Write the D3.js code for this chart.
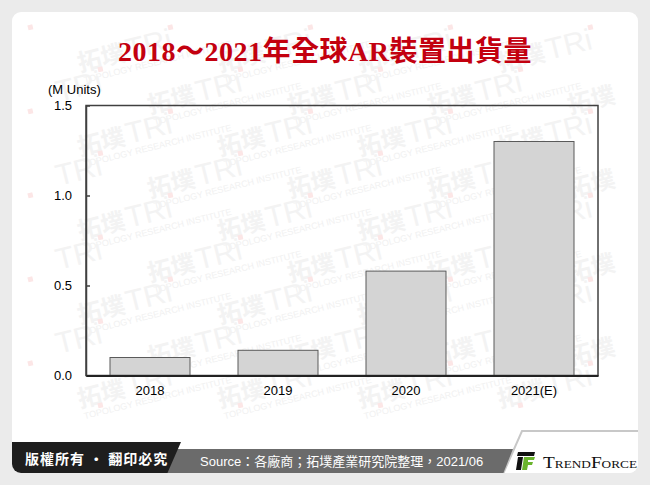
<!DOCTYPE html>
<html>
<head>
<meta charset="utf-8">
<script src="https://cdn.jsdelivr.net/npm/d3@7"></script>
<style>
  html, body { margin: 0; padding: 0; background: #ebebeb; }
  svg { display: block; }
</style>
</head>
<body>
<svg id="chart" width="650" height="485"></svg>
<script>
// ---- data ----
const categories = ["2018", "2019", "2020", "2021(E)"];
const shipments = [0.1, 0.14, 0.58, 1.3];
const yTicks = [0, 0.5, 1.0, 1.5];
const titleText = "2018～2021年全球AR裝置出貨量";
const unitLabel = "(M Units)";
const copyrightText = "版權所有 · 翻印必究";
const sourceText = "Source：各廠商；拓墣產業研究院整理，2021/06";
const watermarkMain = "拓墣";
const watermarkLogo = "TRi";
const watermarkSub = "TOPOLOGY RESEARCH INSTITUTE";

const svg = d3.select("#chart");
const W = 650, H = 485;

svg.append("rect").attr("width", W).attr("height", H).attr("fill", "#ebebeb");

const defs = svg.append("defs");
defs.append("clipPath").attr("id", "panelClip")
  .append("rect").attr("x", 12).attr("y", 12).attr("width", 626).attr("height", 461).attr("rx", 9);

const panel = svg.append("g").attr("clip-path", "url(#panelClip)");
panel.append("rect").attr("x", 12).attr("y", 12).attr("width", 626).attr("height", 461).attr("fill", "#ffffff");

// watermark (decorative) – keep only pieces that lie fully inside the panel
const wm = panel.append("g").attr("pointer-events", "none");
function keepInside(sel) {
  const b = sel.node().getBoundingClientRect();
  if (b.left < 13 || b.right > 637 || b.top < 13 || b.bottom > 440) sel.remove();
}
for (let r = -1; r < 13; r++) {
  for (let c = -1; c < 6; c++) {
    const wx = c * 140 + (r % 2 ? 70 : 0) + 10;
    const wy = r * 42 + 30;
    const g = wm.append("g").attr("transform", `translate(${wx},${wy}) rotate(-14)`);
    keepInside(g.append("text").attr("x", 0).attr("y", 0)
      .attr("font-family", "Noto Sans CJK TC").attr("font-weight", 700)
      .attr("font-size", 24).attr("fill", "#f3f3f3").text(watermarkMain));
    keepInside(g.append("text").attr("x", 50).attr("y", 0)
      .attr("font-family", "Liberation Sans").attr("font-size", 30)
      .attr("fill", "#f3f3f3").text(watermarkLogo));
    keepInside(g.append("rect").attr("x", 96).attr("y", -24).attr("width", 5).attr("height", 5).attr("fill", "#fce6e6"));
    keepInside(g.append("text").attr("x", 2).attr("y", 12)
      .attr("font-family", "Liberation Sans").attr("font-size", 9)
      .attr("fill", "#f1f1f1").text(watermarkSub));
  }
}

// title
svg.append("text")
  .attr("x", 325).attr("y", 61)
  .attr("text-anchor", "middle")
  .attr("font-family", "'Liberation Serif', 'Noto Sans CJK TC', serif")
  .attr("font-weight", 700)
  .attr("font-size", 28)
  .attr("letter-spacing", 0.5)
  .attr("fill", "#c3000f")
  .text(titleText);

// plot
const pLeft = 86, pRight = 598, pTop = 105.5, pBottom = 375.5;
const x = d3.scaleBand().domain(categories).range([pLeft, pRight])
  .paddingInner(0.375).paddingOuter(0.1875);
const y = d3.scaleLinear().domain([0, 1.5]).range([pBottom, pTop]);

const plot = svg.append("g");

plot.selectAll("rect.bar")
  .data(categories)
  .join("rect")
  .attr("class", "bar")
  .attr("x", d => x(d))
  .attr("width", x.bandwidth())
  .attr("y", (d, i) => y(shipments[i]))
  .attr("height", (d, i) => y(0) - y(shipments[i]))
  .attr("fill", "#d4d4d4")
  .attr("stroke", "#5a5a5a")
  .attr("stroke-width", 1);

plot.append("rect")
  .attr("x", pLeft).attr("y", pTop)
  .attr("width", pRight - pLeft).attr("height", pBottom - pTop)
  .attr("fill", "none").attr("stroke", "#404040").attr("stroke-width", 1.5);

const yAxis = d3.axisLeft(y).tickValues(yTicks).tickFormat(d3.format(".1f"))
  .tickSizeInner(-4).tickSizeOuter(0).tickPadding(14);
const ya = plot.append("g").attr("transform", `translate(${pLeft},0)`).call(yAxis);
ya.select(".domain").attr("stroke", "#404040").attr("stroke-width", 1.5);
ya.selectAll(".tick line").attr("stroke", "#404040").attr("stroke-width", 1.5);
ya.selectAll(".tick text")
  .attr("font-family", "'Liberation Sans', Arial, sans-serif")
  .attr("font-size", 13).attr("fill", "#000");

const xAxis = d3.axisBottom(x).tickSize(0).tickPadding(10);
const xa = plot.append("g").attr("transform", `translate(0,${pBottom})`).call(xAxis);
xa.select(".domain").attr("stroke", "#222").attr("stroke-width", 2);
xa.selectAll(".tick text")
  .attr("font-family", "'Liberation Sans', Arial, sans-serif")
  .attr("font-size", 13).attr("fill", "#000");

svg.append("text")
  .attr("x", 48).attr("y", 94)
  .attr("font-family", "'Liberation Sans', Arial, sans-serif")
  .attr("font-size", 13).attr("fill", "#000")
  .text(unitLabel);

// footer
const foot = svg.append("g").attr("clip-path", "url(#panelClip)");
foot.append("path")
  .attr("d", "M522,431 L640,431 L640,474 L503,474 Z")
  .attr("fill", "#ffffff").attr("stroke", "#c8c8c8").attr("stroke-width", 2);
foot.append("path")
  .attr("d", "M170,449 L513,449 L503,474 L160,474 Z")
  .attr("fill", "#6b6b6b");
foot.append("path")
  .attr("d", "M10,442 L181,442 L167,474 L10,474 Z")
  .attr("fill", "#1e1e1e");

foot.append("text")
  .attr("x", 25).attr("y", 464)
  .attr("font-family", "'Noto Sans CJK TC', sans-serif")
  .attr("font-weight", 700)
  .attr("font-size", 14).attr("letter-spacing", 1)
  .attr("fill", "#ffffff")
  .text(copyrightText);

foot.append("text")
  .attr("x", 200).attr("y", 466)
  .attr("font-family", "'Liberation Sans', 'Noto Sans CJK TC', sans-serif")
  .attr("font-size", 13)
  .attr("fill", "#ffffff")
  .text(sourceText);

const logo = foot.append("g");
logo.append("path").attr("d", "M518,452 L535,452 L534,456 L517,456 Z").attr("fill", "#111");
logo.append("path").attr("d", "M518,457 L523,457 L521,470 L516,470 Z").attr("fill", "#111");
logo.append("path").attr("d", "M524,457 L535,457 L534,460 L528,460 L528,462 L533,462 L532,465 L528,465 L527,470 L522,470 Z").attr("fill", "#6ab42d");
logo.append("text")
  .attr("x", 543).attr("y", 468)
  .attr("font-family", "'Liberation Serif', serif")
  .attr("font-size", 16)
  .attr("font-variant", "small-caps")
  .attr("textLength", 94)
  .attr("lengthAdjust", "spacingAndGlyphs")
  .attr("fill", "#111")
  .text("TrendForce");
</script>
</body>
</html>
